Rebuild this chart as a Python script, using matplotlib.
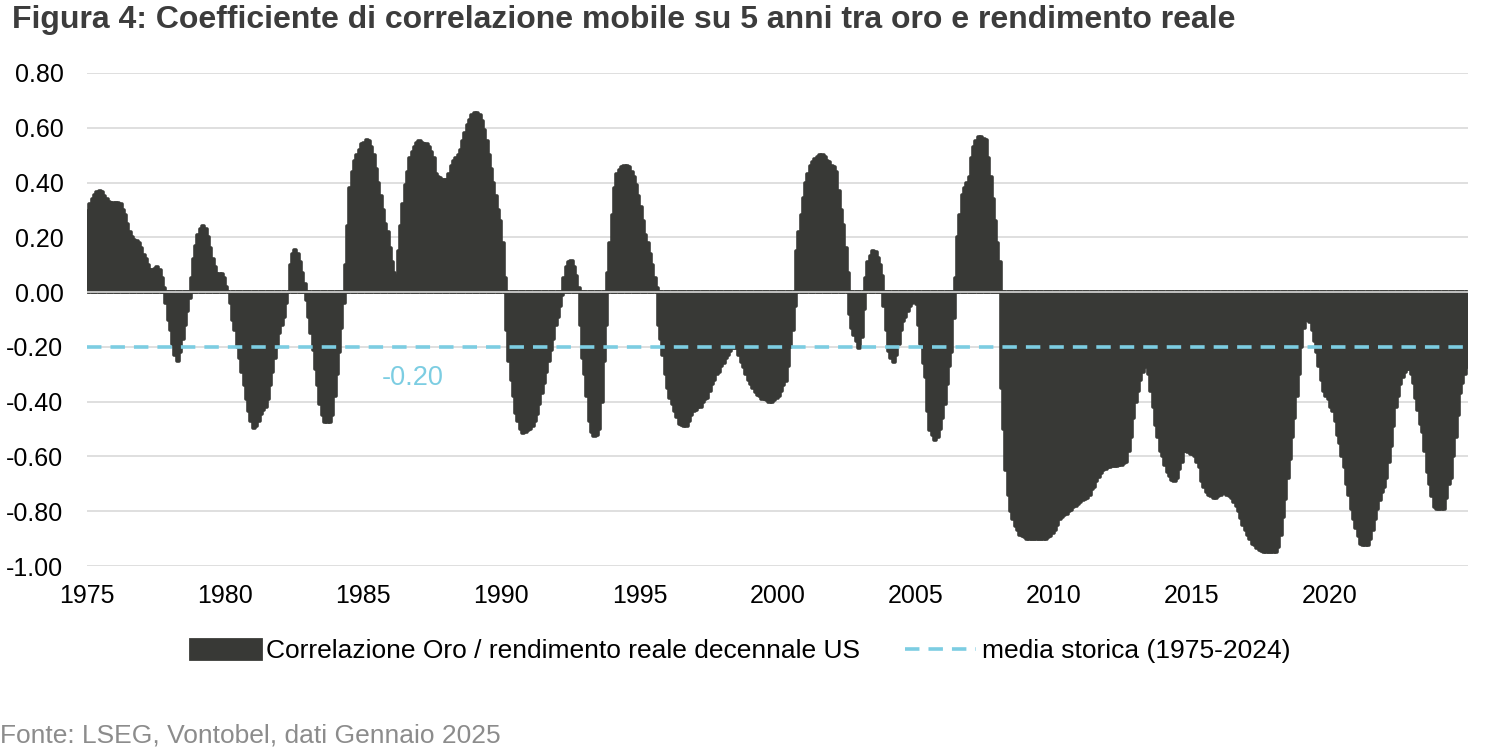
import numpy as np
import matplotlib
matplotlib.use("Agg")
import matplotlib.pyplot as plt
from matplotlib.patches import Patch
from matplotlib.lines import Line2D

plt.rcParams['font.family'] = ['Liberation Sans', 'DejaVu Sans']

# monthly 5y rolling correlation gold / US 10y real yield, Jan 1975 - Dec 2024
corr_1975_1984 = [
    0.295, 0.32, 0.34, 0.355, 0.365, 0.37, 0.365, 0.35, 0.34, 0.33, 0.325, 0.325,
    0.325, 0.325, 0.32, 0.30, 0.28, 0.25, 0.22, 0.20, 0.19, 0.185, 0.18, 0.16,
    0.135, 0.12, 0.10, 0.08, 0.08, 0.085, 0.09, 0.08, 0.05, 0.015, -0.04, -0.10,
    -0.14, -0.19, -0.23, -0.25, -0.22, -0.17, -0.12, -0.07, -0.02, 0.05, 0.12, 0.17,
    0.21, 0.23, 0.24, 0.23, 0.20, 0.16, 0.12, 0.09, 0.065, 0.065, 0.065, 0.05,
    0.02, 0.0, -0.04, -0.10, -0.14, -0.20, -0.24, -0.29, -0.34, -0.39, -0.435, -0.47,
    -0.495, -0.49, -0.47, -0.445, -0.43, -0.42, -0.39, -0.34, -0.29, -0.24, -0.20, -0.15,
    -0.12, -0.09, -0.04, 0.0, 0.10, 0.14, 0.155, 0.14, 0.11, 0.07, 0.03, -0.03,
    -0.09, -0.15, -0.21, -0.28, -0.34, -0.41, -0.45, -0.475, -0.475, -0.475, -0.45, -0.38,
    -0.30, -0.22, -0.13, -0.04, 0.10, 0.24, 0.38, 0.44, 0.48, 0.50, 0.52, 0.54,
]
corr_1985_1994 = [
    0.545, 0.555, 0.55, 0.53, 0.50, 0.45, 0.40, 0.35, 0.30, 0.25, 0.22, 0.16,
    0.11, 0.07, 0.06, 0.15, 0.24, 0.32, 0.39, 0.44, 0.49, 0.51, 0.53, 0.545,
    0.55, 0.545, 0.54, 0.54, 0.53, 0.51, 0.49, 0.43, 0.42, 0.415, 0.41, 0.41,
    0.41, 0.43, 0.46, 0.48, 0.49, 0.50, 0.52, 0.55, 0.58, 0.61, 0.63, 0.645,
    0.655, 0.655, 0.645, 0.625, 0.59, 0.55, 0.50, 0.45, 0.40, 0.35, 0.30, 0.26,
    0.18, 0.05, -0.14, -0.25, -0.32, -0.38, -0.44, -0.47, -0.50, -0.515, -0.51, -0.505,
    -0.50, -0.49, -0.47, -0.445, -0.41, -0.37, -0.33, -0.29, -0.25, -0.21, -0.17, -0.12,
    -0.09, -0.05, -0.01, 0.05, 0.09, 0.11, 0.115, 0.09, 0.06, 0.015, -0.12, -0.24,
    -0.30, -0.38, -0.47, -0.51, -0.525, -0.52, -0.50, -0.40, -0.25, -0.12, 0.07, 0.18,
    0.28, 0.38, 0.43, 0.445, 0.455, 0.46, 0.46, 0.455, 0.44, 0.42, 0.39, 0.35,
]
corr_1995_2004 = [
    0.31, 0.26, 0.21, 0.18, 0.14, 0.10, 0.05, 0.015, -0.12, -0.17, -0.23, -0.30,
    -0.35, -0.385, -0.41, -0.435, -0.455, -0.48, -0.485, -0.49, -0.49, -0.47, -0.45, -0.435,
    -0.43, -0.42, -0.42, -0.40, -0.39, -0.385, -0.36, -0.335, -0.32, -0.30, -0.29, -0.27,
    -0.26, -0.24, -0.23, -0.215, -0.205, -0.205, -0.205, -0.23, -0.255, -0.275, -0.30, -0.32,
    -0.335, -0.35, -0.365, -0.375, -0.38, -0.39, -0.39, -0.395, -0.40, -0.40, -0.395, -0.385,
    -0.38, -0.36, -0.34, -0.325, -0.27, -0.20, -0.14, -0.05, 0.15, 0.22, 0.28, 0.345,
    0.40, 0.43, 0.46, 0.475, 0.485, 0.495, 0.50, 0.50, 0.495, 0.48, 0.475, 0.46,
    0.455, 0.44, 0.37, 0.30, 0.245, 0.16, 0.07, -0.08, -0.13, -0.155, -0.18, -0.205,
    -0.165, -0.06, 0.05, 0.11, 0.13, 0.15, 0.145, 0.125, 0.10, 0.06, -0.05, -0.14,
    -0.215, -0.24, -0.255, -0.23, -0.19, -0.14, -0.105, -0.09, -0.07, -0.05, -0.04, -0.035,
]
corr_2005_2014 = [
    -0.045, -0.12, -0.19, -0.26, -0.31, -0.435, -0.505, -0.52, -0.54, -0.53, -0.50, -0.46,
    -0.41, -0.335, -0.27, -0.22, -0.095, 0.05, 0.20, 0.28, 0.355, 0.38, 0.40, 0.42,
    0.49, 0.53, 0.55, 0.565, 0.565, 0.56, 0.555, 0.49, 0.42, 0.34, 0.26, 0.18,
    0.11, -0.35, -0.50, -0.65, -0.74, -0.80, -0.83, -0.855, -0.87, -0.885, -0.89, -0.895,
    -0.90, -0.90, -0.90, -0.90, -0.90, -0.90, -0.90, -0.90, -0.90, -0.895, -0.89, -0.88,
    -0.87, -0.85, -0.83, -0.82, -0.815, -0.81, -0.80, -0.795, -0.785, -0.78, -0.775, -0.765,
    -0.76, -0.755, -0.75, -0.74, -0.72, -0.71, -0.69, -0.675, -0.66, -0.65, -0.645, -0.64,
    -0.64, -0.635, -0.635, -0.635, -0.63, -0.63, -0.625, -0.62, -0.58, -0.53, -0.46, -0.40,
    -0.36, -0.32, -0.29, -0.275, -0.27, -0.30, -0.36, -0.42, -0.485, -0.53, -0.58, -0.60,
    -0.63, -0.655, -0.67, -0.685, -0.69, -0.68, -0.645, -0.62, -0.58, -0.58, -0.585, -0.59,
]
corr_2015_2024 = [
    -0.59, -0.60, -0.62, -0.64, -0.69, -0.71, -0.73, -0.74, -0.745, -0.75, -0.75, -0.745,
    -0.74, -0.735, -0.735, -0.74, -0.745, -0.75, -0.765, -0.78, -0.80, -0.825, -0.85, -0.87,
    -0.885, -0.90, -0.92, -0.925, -0.935, -0.94, -0.945, -0.95, -0.95, -0.95, -0.95, -0.95,
    -0.95, -0.93, -0.885, -0.82, -0.755, -0.68, -0.61, -0.53, -0.46, -0.38, -0.30, -0.20,
    -0.13, -0.10, -0.10, -0.11, -0.14, -0.18, -0.22, -0.27, -0.32, -0.36, -0.38, -0.39,
    -0.42, -0.435, -0.47, -0.52, -0.55, -0.60, -0.64, -0.70, -0.74, -0.79, -0.83, -0.86,
    -0.89, -0.92, -0.925, -0.925, -0.925, -0.90, -0.87, -0.83, -0.79, -0.76, -0.73, -0.71,
    -0.68, -0.62, -0.56, -0.49, -0.42, -0.38, -0.335, -0.31, -0.29, -0.28, -0.28, -0.30,
    -0.33, -0.385, -0.43, -0.48, -0.51, -0.58, -0.655, -0.70, -0.745, -0.785, -0.79, -0.79,
    -0.79, -0.79, -0.75, -0.70, -0.68, -0.60, -0.53, -0.45, -0.37, -0.33, -0.30, -0.275,
]

start_year = 1975
historical_mean = -0.20
year_ticks = [1975, 1980, 1985, 1990, 1995, 2000, 2005, 2010, 2015, 2020]
y_ticks = [0.8, 0.6, 0.4, 0.2, 0.0, -0.2, -0.4, -0.6, -0.8, -1.0]

title = "Figura 4: Coefficiente di correlazione mobile su 5 anni tra oro e rendimento reale"
bar_label = "Correlazione Oro / rendimento reale decennale US"
mean_label = "media storica (1975-2024)"
source = "Fonte: LSEG, Vontobel, dati Gennaio 2025"

corr = np.array(corr_1975_1984 + corr_1985_1994 + corr_1995_2004
                + corr_2005_2014 + corr_2015_2024)
months = np.arange(len(corr))
x = start_year + (months + 0.5) / 12

bar_color = "#383936"
blue = "#7ccde2"

fig = plt.figure(figsize=(15, 7.5), dpi=100)
ax = fig.add_axes([0.058, 0.2453, 0.9207, 0.6574])

bars = ax.bar(x, corr, width=1 / 12, color=bar_color, edgecolor=bar_color,
              linewidth=2.6, zorder=2)
for b in bars:
    b.set_joinstyle('round')

ax.axhline(0, color="#d9d9d9", lw=1.2, zorder=3)
ax.axhline(historical_mean, color=blue, lw=2.6, dashes=(4, 2.5), zorder=4)
ax.text(1986.8, -0.315, f"{historical_mean:.2f}", color=blue, fontsize=19.5,
        ha="center", va="center")

ax.set_xlim(start_year, start_year + len(corr) / 12)
ax.set_ylim(-1.0, 0.8)
ax.set_yticks(y_ticks)
ax.set_yticklabels([f"{v:.2f}" for v in y_ticks])
ax.set_xticks(year_ticks)
ax.set_xticklabels([str(y) for y in year_ticks])
ax.tick_params(length=0, labelsize=18, colors="#000000")
ax.tick_params(axis="y", pad=17)
ax.tick_params(axis="x", pad=13)
ax.grid(axis="y", color="#d9d9d9", lw=1.2, zorder=0)
ax.set_axisbelow(True)
for s in ax.spines.values():
    s.set_visible(False)

handles = [Patch(facecolor=bar_color, edgecolor=bar_color, linewidth=2,
                 joinstyle='round'),
           Line2D([0], [0], color=blue, lw=2.6, dashes=(4, 2.5))]
fig.legend(handles, [bar_label, mean_label], loc="center",
           bbox_to_anchor=(0.4933, 0.132), ncol=2, frameon=False, fontsize=19,
           handlelength=2.7, handleheight=0.8, handletextpad=0.2,
           columnspacing=1.7)

fig.text(0.008, 0.973, title, fontsize=23, fontweight="bold", color="#3c3c3c",
         ha="left", va="center")
fig.text(0.0, 0.02, source, fontsize=19, color="#8c8c8c", ha="left", va="center")

fig.savefig("out.png", dpi=100)
